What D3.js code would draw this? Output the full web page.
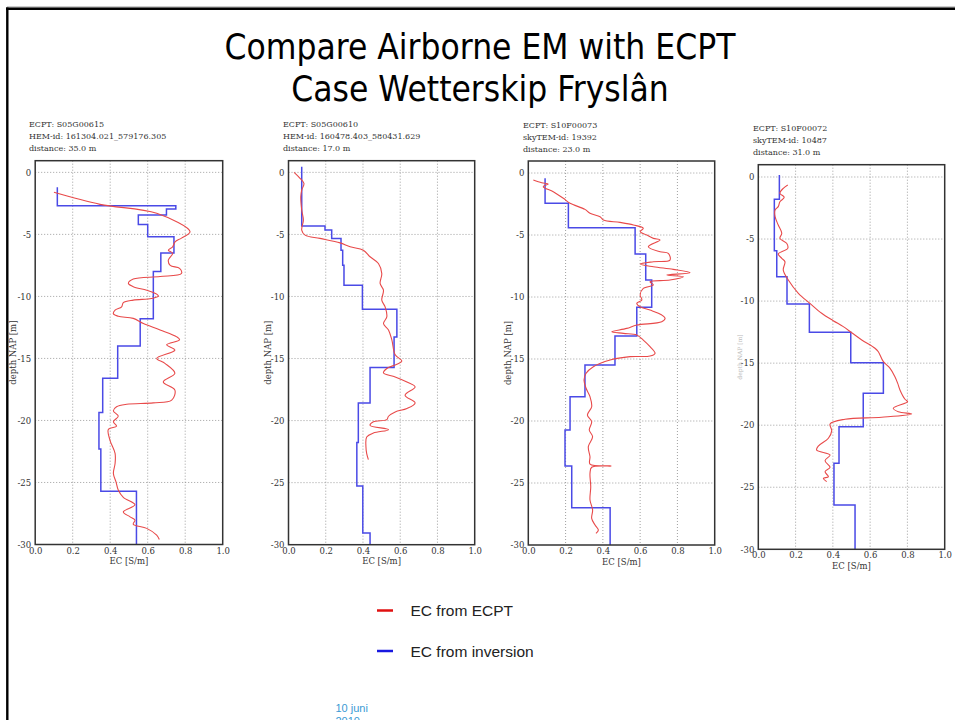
<!DOCTYPE html>
<html>
<head>
<meta charset="utf-8">
<script src="https://cdn.jsdelivr.net/npm/d3@7/dist/d3.min.js"></script>
<style>
  html, body { margin: 0; padding: 0; background: #fff; }
  svg { display: block; }
</style>
</head>
<body>
<svg id="chart" width="955" height="720"></svg>
<script>
// ---------------- DATA ----------------
const titleLines = ["Compare Airborne EM with ECPT", "Case Wetterskip Fryslân"];
const xTicks = [0, 0.2, 0.4, 0.6, 0.8, 1.0];
const yTicks = [0, -5, -10, -15, -20, -25, -30];
const cptIds = ["S05G00615", "S05G00610", "S10F00073", "S10F00072"];
const emIds = ["HEM-id: 161304.021_579176.305", "HEM-id: 160478.403_580431.629", "skyTEM-id: 19392", "skyTEM-id: 10487"];
const distances = [35.0, 17.0, 23.0, 31.0];
const legendLabels = ["EC from ECPT", "EC from inversion"];
const footerLines = ["10 juni", "2010"];

// ECPT measured EC profiles (depth NAP [m], EC [S/m])
const ecptDepth1 = [-1.61,-2.58,-3.3,-4.79,-5.3,-5.6,-6.0,-6.27,-6.53,-7.07,-7.5,-7.74,-8.15,-8.4,-8.6,-8.95,-9.22,-9.5,-9.82,-9.98,-10.17,-10.3,-10.5,-10.84,-11.1,-11.4,-11.6,-11.77,-12.18,-12.7,-13.26,-13.5,-13.9,-14.33,-15.0,-15.4,-16.2,-16.9,-17.55,-18.36,-18.58,-18.7,-18.9,-19.23,-19.65,-20.1,-20.46,-20.73,-21.6,-22.66,-23.47,-24.27,-24.95,-25.6,-26.2,-26.8,-27.37,-27.77,-28.04,-28.36,-28.7,-29.25,-29.6];
const ecptEC1    = [0.10,0.346,0.648,0.826,0.78,0.746,0.733,0.71,0.733,0.71,0.72,0.77,0.78,0.666,0.523,0.497,0.523,0.595,0.648,0.657,0.62,0.523,0.47,0.461,0.426,0.417,0.443,0.523,0.577,0.666,0.755,0.77,0.701,0.745,0.648,0.692,0.745,0.683,0.745,0.728,0.63,0.488,0.434,0.417,0.443,0.417,0.434,0.39,0.399,0.426,0.426,0.417,0.431,0.443,0.47,0.532,0.47,0.506,0.532,0.523,0.595,0.648,0.662];

const ecptDepth2 = [0.0,-0.48,-0.89,-1.43,-1.97,-3.04,-3.85,-4.65,-5.06,-5.32,-5.68,-6.0,-6.27,-6.8,-7.34,-8.15,-8.95,-9.5,-10.3,-10.84,-11.65,-12.18,-12.7,-13.5,-14.7,-15.2,-15.46,-15.8,-16.16,-16.48,-16.89,-17.29,-17.96,-18.58,-19.03,-19.3,-19.65,-19.92,-20.1,-20.38,-20.73,-21.0,-21.32,-22.13,-22.66,-23.15];
const ecptEC2    = [0.030,0.062,0.083,0.071,0.066,0.071,0.08,0.071,0.089,0.169,0.277,0.331,0.402,0.438,0.483,0.501,0.492,0.51,0.501,0.519,0.528,0.51,0.537,0.555,0.573,0.609,0.582,0.528,0.51,0.573,0.636,0.68,0.626,0.68,0.636,0.573,0.537,0.528,0.456,0.438,0.537,0.456,0.42,0.416,0.42,0.429];

const ecptDepth3 = [-0.56,-0.78,-0.89,-1.1,-1.51,-2.04,-2.44,-2.93,-3.25,-3.52,-3.79,-3.98,-4.19,-4.46,-4.73,-5.0,-5.27,-5.4,-5.94,-6.35,-6.48,-7.02,-7.15,-7.34,-7.56,-7.77,-8.04,-8.23,-8.36,-8.63,-8.77,-9.03,-9.3,-9.84,-10.24,-10.51,-10.78,-11.05,-11.45,-11.72,-12.0,-12.26,-12.53,-12.8,-12.93,-13.06,-13.47,-14.0,-14.54,-14.76,-14.81,-15.08,-15.62,-16.15,-16.69,-17.36,-18.04,-18.85,-19.52,-20.06,-20.73,-21.27,-22.07,-22.88,-23.47,-23.63,-23.73,-24.22,-25.3,-26.37,-27.18,-27.85,-28.39,-28.79,-29.06];
const ecptEC3    = [0.027,0.072,0.107,0.08,0.134,0.188,0.224,0.304,0.331,0.385,0.403,0.492,0.564,0.617,0.6,0.636,0.671,0.707,0.644,0.707,0.751,0.76,0.671,0.6,0.671,0.778,0.868,0.743,0.832,0.76,0.653,0.671,0.617,0.6,0.609,0.582,0.6,0.653,0.716,0.734,0.716,0.582,0.528,0.448,0.51,0.582,0.617,0.653,0.68,0.653,0.546,0.439,0.349,0.31,0.299,0.31,0.331,0.34,0.317,0.34,0.327,0.345,0.322,0.331,0.331,0.444,0.34,0.331,0.335,0.331,0.345,0.34,0.358,0.376,0.363];

const ecptDepth4 = [-0.64,-0.91,-1.31,-1.64,-1.99,-2.39,-2.66,-3.2,-3.87,-4.54,-4.94,-5.34,-5.75,-6.2,-6.55,-6.83,-7.5,-8.3,-9.37,-10.18,-10.98,-11.58,-12.06,-12.55,-13.13,-13.8,-14.08,-14.88,-15.42,-16.09,-16.63,-17.16,-17.91,-18.1,-18.64,-18.91,-19.1,-19.36,-19.52,-19.9,-20.44,-21.05,-21.68,-22.0,-22.4,-22.86,-23.39,-23.75,-24.15,-24.28,-24.55];
const ecptEC4    = [0.158,0.134,0.116,0.139,0.116,0.107,0.09,0.09,0.107,0.126,0.116,0.152,0.158,0.107,0.126,0.143,0.134,0.161,0.215,0.277,0.34,0.402,0.456,0.501,0.555,0.626,0.644,0.671,0.707,0.733,0.748,0.76,0.787,0.801,0.724,0.751,0.823,0.662,0.465,0.385,0.394,0.376,0.322,0.313,0.385,0.358,0.385,0.358,0.376,0.349,0.367];

// Inversion layered models: layer boundaries (depth NAP [m]) and layer EC [S/m]
const invDepth1 = [-1.2,-2.7,-2.96,-3.44,-4.2,-5.2,-6.5,-8.0,-11.8,-14.0,-16.6,-19.35,-22.3,-25.7,-30];
const invEC1    = [0.118,0.75,0.70,0.55,0.60,0.74,0.67,0.63,0.56,0.44,0.36,0.34,0.35,0.54];
const invDepth2 = [0.45,-4.33,-4.65,-5.32,-6.27,-7.48,-9.09,-11.03,-13.26,-15.73,-18.58,-21.77,-25.27,-29.06,-30];
const invEC2    = [0.071,0.196,0.232,0.282,0.291,0.298,0.397,0.582,0.567,0.438,0.375,0.367,0.399,0.438];
const invDepth3 = [-0.43,-2.44,-4.41,-6.53,-8.63,-10.83,-13.15,-15.48,-18.04,-20.73,-23.63,-26.99,-30];
const invEC3    = [0.09,0.215,0.573,0.63,0.662,0.582,0.465,0.304,0.224,0.197,0.233,0.439];
const invDepth4 = [0.16,-1.8,-5.94,-8.03,-10.23,-12.51,-14.96,-17.43,-20.12,-23.07,-26.43,-30];
const invEC4    = [0.113,0.086,0.099,0.154,0.274,0.496,0.671,0.563,0.433,0.406,0.519];

const ecptDepths = [ecptDepth1, ecptDepth2, ecptDepth3, ecptDepth4];
const ecptECs = [ecptEC1, ecptEC2, ecptEC3, ecptEC4];
const invDepths = [invDepth1, invDepth2, invDepth3, invDepth4];
const invECs = [invEC1, invEC2, invEC3, invEC4];

// ---------------- LAYOUT ----------------
const layout = [
  {x0: 35.2, x1: 222.7, y0: 160.7, y1: 544.5, yTop: 0.94, headX: 29, headY: 127, labelX: 13, faint: false},
  {x0: 288.5, x1: 474.7, y0: 160.7, y1: 544.7, yTop: 0.94, headX: 283, headY: 127, labelX: 268, faint: false},
  {x0: 528.3, x1: 714.7, y0: 161.0, y1: 545.0, yTop: 0.97, headX: 523, headY: 128, labelX: 508, faint: false},
  {x0: 758.3, x1: 944.7, y0: 164.7, y1: 549.3, yTop: 0.99, headX: 753, headY: 131, labelX: 740, faint: true}
];
const serif = "'DejaVu Serif', 'Liberation Serif', serif";
const textCol = "#333";
const redCol = "#e84a4a";
const blueCol = "#4a4ae6";

const svg = d3.select("#chart");
svg.append("rect").attr("width", 955).attr("height", 720).attr("fill", "#fff");

// slide frame
svg.append("line").attr("x1", 7).attr("x2", 955).attr("y1", 7).attr("y2", 7).attr("stroke", "#999").attr("stroke-width", 1);
svg.append("line").attr("x1", 6).attr("x2", 955).attr("y1", 8.8).attr("y2", 8.8).attr("stroke", "#000").attr("stroke-width", 2.6);
svg.append("line").attr("x1", 7.3).attr("x2", 7.3).attr("y1", 7.5).attr("y2", 720).attr("stroke", "#000").attr("stroke-width", 2.4);

// title
svg.selectAll("text.title").data(titleLines).enter().append("text")
  .attr("class", "title")
  .attr("x", 480).attr("y", (d, i) => 59 + i * 42)
  .attr("text-anchor", "middle")
  .attr("font-family", "'DejaVu Sans Condensed', 'DejaVu Sans', sans-serif")
  .attr("font-stretch", "condensed")
  .attr("font-size", 35)
  .attr("fill", "#000")
  .text(d => d);

layout.forEach((L, p) => {
  const x = d3.scaleLinear().domain([0, 1]).range([L.x0, L.x1]);
  const y = d3.scaleLinear().domain([L.yTop, -30]).range([L.y0, L.y1]);
  const g = svg.append("g");

  // header text
  const head = [`ECPT: ${cptIds[p]}`, emIds[p], `distance: ${distances[p].toFixed(1)} m`];
  g.selectAll("text.head").data(head).enter().append("text")
    .attr("x", L.headX).attr("y", (d, i) => L.headY + i * 12)
    .attr("font-family", serif).attr("font-size", 8).attr("fill", textCol)
    .text(d => d);

  // grid
  g.selectAll("line.gx").data(xTicks.slice(1, -1)).enter().append("line")
    .attr("x1", d => x(d)).attr("x2", d => x(d)).attr("y1", L.y0).attr("y2", L.y1)
    .attr("stroke", "#888").attr("stroke-width", 0.8).attr("stroke-dasharray", "1,2");
  g.selectAll("line.gy").data(yTicks.slice(0, -1)).enter().append("line")
    .attr("x1", L.x0).attr("x2", L.x1).attr("y1", d => y(d)).attr("y2", d => y(d))
    .attr("stroke", "#888").attr("stroke-width", 0.8).attr("stroke-dasharray", "1,2");

  // inversion step line
  const invPts = [];
  const dep = invDepths[p], ec = invECs[p];
  for (let i = 0; i < ec.length; i++) {
    invPts.push([ec[i], dep[i]]);
    invPts.push([ec[i], dep[i + 1]]);
  }
  g.append("path").datum(invPts)
    .attr("d", d3.line().x(d => x(d[0])).y(d => y(d[1])))
    .attr("fill", "none").attr("stroke", blueCol).attr("stroke-width", 1.5);

  // ECPT line
  const ePts = ecptDepths[p].map((d, i) => [ecptECs[p][i], d]);
  g.append("path").datum(ePts)
    .attr("d", d3.line().x(d => x(d[0])).y(d => y(d[1])).curve(d3.curveCatmullRom.alpha(0.5)))
    .attr("fill", "none").attr("stroke", redCol).attr("stroke-width", 1.1);

  // frame
  g.append("rect").attr("x", L.x0).attr("y", L.y0).attr("width", L.x1 - L.x0).attr("height", L.y1 - L.y0)
    .attr("fill", "none").attr("stroke", "#333").attr("stroke-width", 1.5);

  // axes tick labels
  const xAxis = d3.axisBottom(x).tickValues(xTicks).tickFormat(d3.format(".1f")).tickSize(0).tickPadding(3);
  const xa = g.append("g").attr("transform", `translate(0,${L.y1})`).call(xAxis);
  xa.select(".domain").remove();
  xa.selectAll("text").attr("font-family", serif).attr("font-size", 8.5).attr("fill", textCol);

  const yAxis = d3.axisLeft(y).tickValues(yTicks).tickFormat(d => d3.format("d")(d).replace("−", "-")).tickSize(0).tickPadding(4);
  const ya = g.append("g").attr("transform", `translate(${L.x0},0)`).call(yAxis);
  ya.select(".domain").remove();
  ya.selectAll("text").attr("font-family", serif).attr("font-size", 8.5).attr("fill", textCol);

  // axis labels
  g.append("text").attr("x", (L.x0 + L.x1) / 2).attr("y", L.y1 + 19.5)
    .attr("text-anchor", "middle").attr("font-family", serif).attr("font-size", 8.5).attr("fill", textCol)
    .text("EC [S/m]");
  g.append("text")
    .attr("transform", `translate(${L.labelX},${(L.y0 + L.y1) / 2}) rotate(-90)`)
    .attr("text-anchor", "middle").attr("dy", "0.35em")
    .attr("font-family", serif).attr("font-size", L.faint ? 6 : 8.5)
    .attr("fill", L.faint ? "#bbb" : textCol)
    .text("depth NAP [m]");
});

// legend
const legendCols = ["#e01010", "#1818e0"];
const lg = svg.append("g");
legendLabels.forEach((t, i) => {
  const yy = 610.5 + i * 40.5;
  lg.append("line").attr("x1", 377).attr("x2", 393).attr("y1", yy).attr("y2", yy)
    .attr("stroke", legendCols[i]).attr("stroke-width", 2.5);
  lg.append("text").attr("x", 410.5).attr("y", yy).attr("dy", "0.36em")
    .attr("font-family", "'Liberation Sans', Arial, sans-serif").attr("font-size", 15.5).attr("fill", "#222")
    .text(t);
});

// footer date
svg.selectAll("text.foot").data(footerLines).enter().append("text")
  .attr("x", 335.5).attr("y", (d, i) => 712 + i * 13)
  .attr("font-family", "'Liberation Sans', Arial, sans-serif").attr("font-size", 11).attr("fill", "#3a9ad4")
  .text(d => d);
</script>
</body>
</html>
